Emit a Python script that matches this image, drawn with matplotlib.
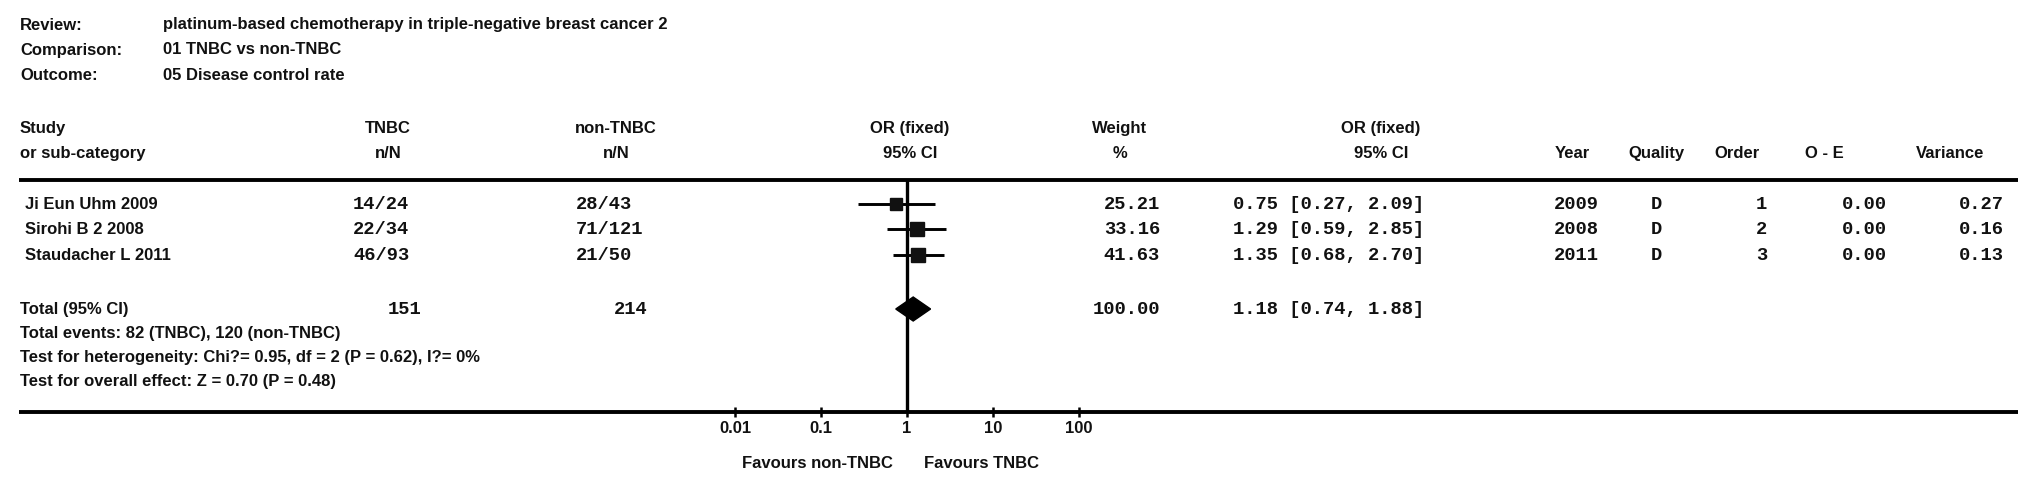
import matplotlib
matplotlib.use("Agg")
import matplotlib.pyplot as plt
import numpy as np

# ===== Data =====
review_labels = ["Review:", "Comparison:", "Outcome:"]
review_values = ["platinum-based chemotherapy in triple-negative breast cancer 2",
                 "01 TNBC vs non-TNBC",
                 "05 Disease control rate"]

studies = ["Ji Eun Uhm 2009", "Sirohi B 2 2008", "Staudacher L 2011"]
tnbc_n = [14, 22, 46]
tnbc_N = [24, 34, 93]
non_n = [28, 71, 21]
non_N = [43, 121, 50]
weights = [25.21, 33.16, 41.63]
or_est = [0.75, 1.29, 1.35]
ci_lo = [0.27, 0.59, 0.68]
ci_hi = [2.09, 2.85, 2.70]
years = [2009, 2008, 2011]
quality = ["D", "D", "D"]
order = [1, 2, 3]
o_minus_e = [0.00, 0.00, 0.00]
variance = [0.27, 0.16, 0.13]

total_tnbc = 151
total_non = 214
total_weight = 100.00
total_or, total_lo, total_hi = 1.18, 0.74, 1.88
notes = ["Total events: 82 (TNBC), 120 (non-TNBC)",
         "Test for heterogeneity: Chi?= 0.95, df = 2 (P = 0.62), I?= 0%",
         "Test for overall effect: Z = 0.70 (P = 0.48)"]

tick_vals = [0.01, 0.1, 1, 10, 100]
tick_labels = ["0.01", "0.1", "1", "10", "100"]

# ===== Layout (pixels) =====
W, H = 2031, 490
y_title = [25, 50, 75]
y_head = [128, 153]
y_hline = 180
y_rows = [204, 229, 255]
y_total = 309
y_notes = [333, 357, 381]
y_axis = 412
y_favours = 463
x_left, x_right = 19, 2018
fx0, fx1 = 735, 1079  # pixel span of 0.01 .. 100

sans = dict(family="Liberation Sans", fontsize=12, fontweight="bold", color="#111111")
mono = dict(family="Liberation Mono", fontsize=13.5, fontweight="bold", color="#111111")

fig = plt.figure(figsize=(W / 100, H / 100), dpi=100)
base = fig.add_axes([0, 0, 1, 1])
base.set_xlim(0, W)
base.set_ylim(H, 0)
base.axis("off")

# --- header block ---
for y, lab, val in zip(y_title, review_labels, review_values):
    base.text(20, y, lab, va="center", ha="left", **sans)
    base.text(163, y, val, va="center", ha="left", **sans)

headers = [
    (20, "left", "Study", "or sub-category"),
    (388, "center", "TNBC", "n/N"),
    (616, "center", "non-TNBC", "n/N"),
    (910, "center", "OR (fixed)", "95% CI"),
    (1120, "center", "Weight", "%"),
    (1381, "center", "OR (fixed)", "95% CI"),
    (1572, "center", "", "Year"),
    (1656, "center", "", "Quality"),
    (1737, "center", "", "Order"),
    (1824, "center", "", "O - E"),
    (1950, "center", "", "Variance"),
]
for x, ha, l1, l2 in headers:
    base.text(x, y_head[0], l1, va="center", ha=ha, **sans)
    base.text(x, y_head[1], l2, va="center", ha=ha, **sans)

base.plot([x_left, x_right], [y_hline, y_hline], color="black", lw=2.8, solid_capstyle="butt")
base.plot([x_left, x_right], [y_axis, y_axis], color="black", lw=2.8, solid_capstyle="butt")

# --- study rows ---
for i, y in enumerate(y_rows):
    base.text(25, y, studies[i], va="center", ha="left", **sans)
    base.text(353, y, f"{tnbc_n[i]}/{tnbc_N[i]}", va="center", ha="left", **mono)
    base.text(576, y, f"{non_n[i]}/{non_N[i]}", va="center", ha="left", **mono)
    base.text(1160, y, f"{weights[i]:.2f}", va="center", ha="right", **mono)
    base.text(1233, y, f"{or_est[i]:.2f} [{ci_lo[i]:.2f}, {ci_hi[i]:.2f}]", va="center", ha="left", **mono)
    base.text(1554, y, f"{years[i]}", va="center", ha="left", **mono)
    base.text(1656, y, quality[i], va="center", ha="center", **mono)
    base.text(1767, y, f"{order[i]}", va="center", ha="right", **mono)
    base.text(1887, y, f"{o_minus_e[i]:.2f}", va="center", ha="right", **mono)
    base.text(2004, y, f"{variance[i]:.2f}", va="center", ha="right", **mono)

# --- total rows ---
base.text(20, y_total, "Total (95% CI)", va="center", ha="left", **sans)
base.text(388, y_total, f"{total_tnbc}", va="center", ha="left", **mono)
base.text(614, y_total, f"{total_non}", va="center", ha="left", **mono)
base.text(1160, y_total, f"{total_weight:.2f}", va="center", ha="right", **mono)
base.text(1233, y_total, f"{total_or:.2f} [{total_lo:.2f}, {total_hi:.2f}]", va="center", ha="left", **mono)
for y, t in zip(y_notes, notes):
    base.text(20, y, t, va="center", ha="left", **sans)

# --- forest panel ---
fa = fig.add_axes([fx0 / W, (H - y_axis) / H, (fx1 - fx0) / W, y_axis / H])
fa.set_xscale("log")
fa.set_xlim(tick_vals[0], tick_vals[-1])
fa.set_ylim(y_axis, 0)
fa.patch.set_alpha(0)
for s in fa.spines.values():
    s.set_visible(False)
fa.set_yticks([])
fa.set_xticks(tick_vals)
fa.set_xticklabels(tick_labels, fontfamily="Liberation Sans", fontsize=12,
                   fontweight="bold", color="#111111")
fa.minorticks_off()
fa.tick_params(axis="x", direction="inout", length=7, width=1.8, pad=3)

fa.vlines(1, y_hline, y_axis, color="black", lw=2.4)
side = 2.3 * np.sqrt(weights)  # square side in px
for i, y in enumerate(y_rows):
    fa.plot([ci_lo[i], ci_hi[i]], [y, y], color="black", lw=2.1, solid_capstyle="butt")
    fa.plot(or_est[i], y, marker="s", color="#111111", markersize=side[i] * 0.72, zorder=3)
half = 12
fa.fill([total_lo, total_or, total_hi, total_or],
        [y_total, y_total - half, y_total, y_total + half], color="black", zorder=3)

base.text(893, y_favours, "Favours non-TNBC", va="center", ha="right", **sans)
base.text(924, y_favours, "Favours TNBC", va="center", ha="left", **sans)

fig.savefig("out.png", dpi=100)
